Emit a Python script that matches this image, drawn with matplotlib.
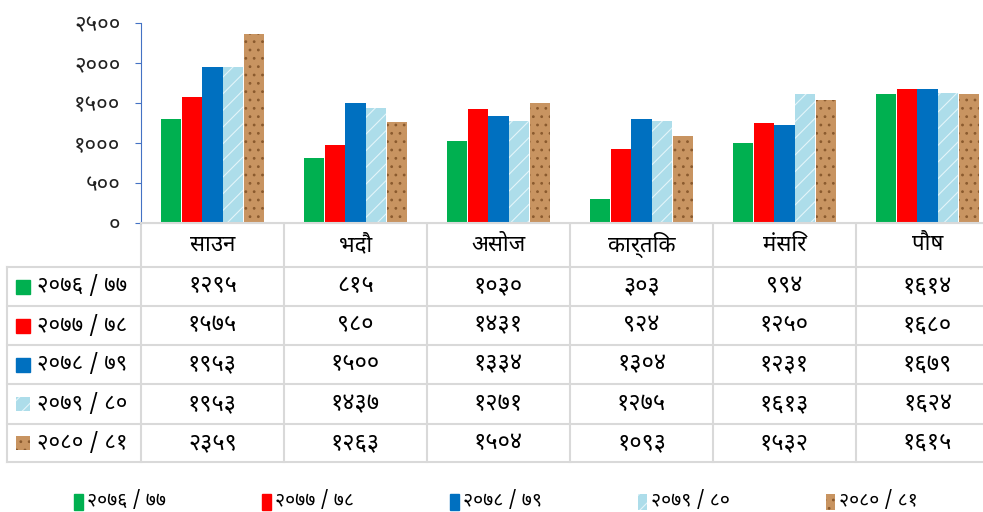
import matplotlib
matplotlib.use("Agg")
import matplotlib.pyplot as plt
from matplotlib.patches import Rectangle
import numpy as np

# data
months = ["साउन", "भदौ", "असोज", "कार्तिक", "मंसिर", "पौष"]
years = ["२०७६ / ७७", "२०७७ / ७८", "२०७८ / ७९", "२०७९ / ८०", "२०८० / ८१"]
v7677 = [1295, 815, 1030, 303, 994, 1614]
v7778 = [1575, 980, 1431, 924, 1250, 1680]
v7879 = [1953, 1500, 1334, 1304, 1231, 1679]
v7980 = [1953, 1437, 1271, 1275, 1613, 1624]
v8081 = [2359, 1263, 1504, 1093, 1532, 1615]
series = [v7677, v7778, v7879, v7980, v8081]
yticks = [0, 500, 1000, 1500, 2000, 2500]

DEV = str.maketrans("0123456789", "०१२३४५६७८९")

def dev(n):
    return str(n).translate(DEV)

plt.rcParams["font.family"] = ["Noto Sans Devanagari", "Hind", "Mukta", "Annapurna SIL",
                               "FreeSans", "DejaVu Sans"]
plt.rcParams["hatch.linewidth"] = 0.8

styles = [
    dict(color="#00B050"),
    dict(color="#FF0000"),
    dict(color="#0070C0"),
    dict(facecolor="#ADDDEA", edgecolor="#E4F5FA", hatch="//", lw=0),
    dict(facecolor="#C89461", edgecolor="#8A5A2E", hatch="..", lw=0),
]

W, H = 983, 512
fig = plt.figure(figsize=(W / 100, H / 100), dpi=100)

x0, cw = 141, 143
top, base = 23, 223
ax = fig.add_axes([x0 / W, 1 - base / H, 6 * cw / W, (base - top) / H])
x = np.arange(len(months))
bw = 0.14
for i, (vals, st) in enumerate(zip(series, styles)):
    ax.bar(x + (i - 2) * (bw + 0.005), vals, bw, label=years[i], **st)
ax.set_xlim(-0.5, 5.5)
ax.set_ylim(0, 2500)
ax.set_yticks(yticks)
ax.set_yticklabels([dev(t) for t in yticks], fontsize=16)
ax.set_xticks([])
for s in ["top", "right"]:
    ax.spines[s].set_visible(False)
ax.spines["bottom"].set_color("#D9D9D9")
ax.spines["bottom"].set_linewidth(1.5)
ax.spines["left"].set_color("#4472C4")
ax.tick_params(axis="y", colors="#4472C4", length=4.3, labelcolor="#222222", pad=10.5)

# table in pixel coordinates
ov = fig.add_axes([0, 0, 1, 1], zorder=-1)
ov.set_xlim(0, W)
ov.set_ylim(H, 0)
ov.axis("off")
gc = "#D9D9D9"
rows = [223, 267, 306, 345, 384, 424, 462]
xr = x0 + 6 * cw
ov.plot([x0, xr], [rows[0], rows[0]], color=gc, lw=1.5)
for r in rows[1:]:
    ov.plot([7, xr], [r, r], color=gc, lw=1.5)
ov.plot([7, 7], [rows[1], rows[-1]], color=gc, lw=1.5)
for c in range(7):
    ov.plot([x0 + c * cw] * 2, [rows[0], rows[-1]], color=gc, lw=1.5)

for j, m in enumerate(months):
    ov.text(x0 + (j + 0.5) * cw, (rows[0] + rows[1]) / 2, m, ha="center", va="center", fontsize=16)
for i, vals in enumerate(series):
    yc = (rows[i + 1] + rows[i + 2]) / 2
    ov.add_patch(Rectangle((16, yc - 7), 14, 14, **styles[i]))
    ov.text(37, yc, years[i], ha="left", va="center", fontsize=16)
    for j, v in enumerate(vals):
        ov.text(x0 + (j + 0.5) * cw, yc, dev(v), ha="center", va="center", fontsize=17)

# legend along the bottom
for i, yr in enumerate(years):
    lx = 74 + i * 188
    ov.add_patch(Rectangle((lx, 494), 9, 16, **styles[i]))
    ov.text(lx + 13, 501, yr, ha="left", va="center", fontsize=14)

fig.savefig("out.png", dpi=100)
